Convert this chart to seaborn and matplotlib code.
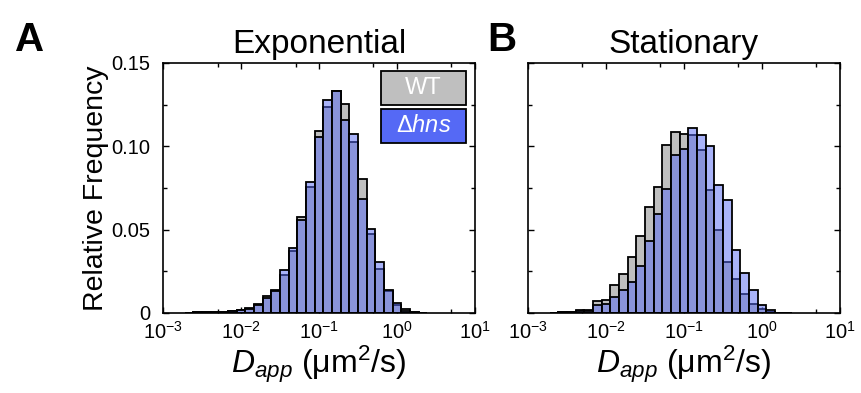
import numpy as np
import pandas as pd
import matplotlib
matplotlib.use("Agg")
import matplotlib.pyplot as plt
from matplotlib.patches import Rectangle
from matplotlib.ticker import LogLocator, MultipleLocator, FixedLocator, FuncFormatter
import seaborn as sns

# bin index k -> bin centre at 10^(k/9), 9 bins per decade
bin_index = list(range(-24, 4))

exp_wt = [0.0002, 0.0003, 0.0004, 0.0006, 0.0008, 0.0011, 0.0016, 0.0028, 0.0052, 0.0100,
          0.0140, 0.0228, 0.0370, 0.0576, 0.0756, 0.1090, 0.1236, 0.1332, 0.1256, 0.1024,
          0.0806, 0.0472, 0.0266, 0.0130, 0.0046, 0.0022, 0.0006, 0.0001]
exp_hns = [0.0002, 0.0003, 0.0004, 0.0005, 0.0008, 0.0010, 0.0015, 0.0025, 0.0048, 0.0090,
           0.0130, 0.0260, 0.0390, 0.0560, 0.0786, 0.1056, 0.1280, 0.1332, 0.1160, 0.1076,
           0.0686, 0.0506, 0.0306, 0.0135, 0.0060, 0.0010, 0.0003, 0.0001]

stat_wt = [0.0002, 0.0004, 0.0008, 0.0020, 0.0020, 0.0070, 0.0076, 0.0170, 0.0232, 0.0338,
           0.0464, 0.0636, 0.0756, 0.1008, 0.1086, 0.1072, 0.1066, 0.0980, 0.0736, 0.0500,
           0.0306, 0.0206, 0.0116, 0.0056, 0.0026, 0.0005, 0.0, 0.0]
stat_hns = [0.0002, 0.0004, 0.0006, 0.0010, 0.0014, 0.0046, 0.0056, 0.0095, 0.0136, 0.0186,
            0.0280, 0.0432, 0.0596, 0.0746, 0.0946, 0.0982, 0.1110, 0.1066, 0.1000, 0.0766,
            0.0676, 0.0376, 0.0240, 0.0140, 0.0046, 0.0015, 0.0, 0.0]

titles = ["Exponential", "Stationary"]
panel_letters = ["A", "B"]
strain_labels = ["WT", r"$\Delta\mathit{hns}$"]

WT_COLOR = "#bfbfbf"
HNS_COLOR = "#5569f5"

sns.set_theme(style="ticks")
plt.rcParams["font.family"] = ["Liberation Sans", "DejaVu Sans"]
plt.rcParams["mathtext.fontset"] = "custom"
plt.rcParams["mathtext.rm"] = "Liberation Sans"
plt.rcParams["mathtext.it"] = "Liberation Sans:italic"
plt.rcParams["mathtext.bf"] = "Liberation Sans:bold"
plt.rcParams["axes.linewidth"] = 1.2
for key in ["text.color", "axes.labelcolor", "xtick.color", "ytick.color", "axes.edgecolor"]:
    plt.rcParams[key] = "black"

centers = 10 ** (np.array(bin_index) / 9)
edges_log = list((np.arange(bin_index[0], bin_index[-1] + 2) - 0.5) / 9)

fig = plt.figure(figsize=(8.62, 3.93), dpi=100)
ax_a = fig.add_axes([0.1891, 0.2036, 0.3619, 0.6361])
ax_b = fig.add_axes([0.6125, 0.2036, 0.3619, 0.6361])

for ax, wt, hns, title, letter in zip(
    [ax_a, ax_b], [exp_wt, stat_wt], [exp_hns, stat_hns], titles, panel_letters
):
    df = pd.DataFrame({"D": centers, "WT": wt, "hns": hns})
    sns.histplot(data=df, x="D", weights="WT", bins=edges_log, log_scale=True,
                 stat="count", color=WT_COLOR, edgecolor="black", linewidth=1.3,
                 alpha=1, ax=ax)
    sns.histplot(data=df, x="D", weights="hns", bins=edges_log, log_scale=True,
                 stat="count", color=HNS_COLOR, edgecolor="black", linewidth=1.3,
                 alpha=0.5, ax=ax)
    ax.set_xlim(1e-3, 10)
    ax.set_ylim(0, 0.15)
    ax.xaxis.set_major_locator(LogLocator(base=10, numticks=10))
    ax.xaxis.set_minor_locator(LogLocator(base=10, subs=(5,), numticks=10))
    ax.yaxis.set_major_locator(FixedLocator([0, 0.05, 0.10, 0.15]))
    ax.yaxis.set_minor_locator(MultipleLocator(0.025))
    ax.yaxis.set_major_formatter(FuncFormatter(lambda v, p: "0" if v == 0 else f"{v:.2f}"))
    ax.tick_params(which="both", direction="in", top=True, right=True, width=1.0,
                   labelsize=14.5, pad=6)
    ax.tick_params(axis="y", which="major", pad=9)
    ax.tick_params(which="major", length=4)
    ax.tick_params(which="minor", length=3)
    for sp in ax.spines.values():
        sp.set_visible(True)
        sp.set_color("black")
    ax.set_title(title, fontsize=24, pad=7)
    ax.set_xlabel(r"$D_{app}$ (μm$^2$/s)", fontsize=23, labelpad=0)
    ax.set_ylabel("")
    ax.text(-0.475 if letter == "A" else -0.13, 1.092, letter, transform=ax.transAxes,
            fontsize=29, fontweight="bold", va="center", ha="left")

ax_a.set_ylabel("Relative Frequency", fontsize=20.5, labelpad=2)
ax_b.set_yticklabels([])

# legend boxes
for (y0, color, label) in [(0.832, WT_COLOR, strain_labels[0]),
                           (0.679, HNS_COLOR, strain_labels[1])]:
    ax_a.add_patch(Rectangle((0.698, y0), 0.273, 0.136, transform=ax_a.transAxes,
                             facecolor=color, edgecolor="black", linewidth=1.3,
                             zorder=5))
    ax_a.text(0.8345, y0 + 0.068, label, transform=ax_a.transAxes, color="white",
              fontsize=17, ha="center", va="center", zorder=6)

fig.savefig("out.png", dpi=100)
